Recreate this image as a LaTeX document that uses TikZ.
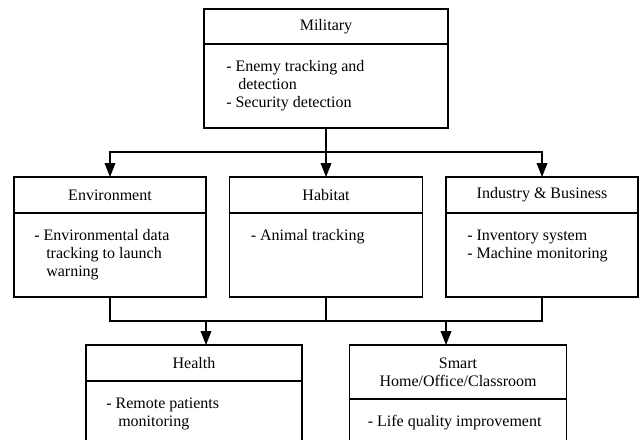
\documentclass[tikz,border=0pt]{standalone}
\usepackage{fontspec}
\setmainfont{Liberation Serif}
\usetikzlibrary{positioning,arrows.meta}
\def\ind{\hspace*{9pt}}
\tikzset{
 box/.style={draw, line width=1.1pt, outer sep=0pt, inner sep=0pt, font=\fontsize{12}{13.5}\selectfont},
 head/.style={box, minimum height=27pt, align=center},
 body/.style={box, minimum height=63pt},
 items/.style={anchor=north west, inner sep=0pt, align=left, font=\fontsize{12}{13.5}\selectfont},
 link/.style={line width=1.1pt},
 arr/.style={link, -{Triangle[length=10.5pt,width=8pt]}}
}
\begin{document}
\begin{tikzpicture} [x=0.75pt, y=-0.75pt]
\useasboundingbox (0,0) rectangle (641,439);
\clip (0,0) rectangle (641,439);

% top
\node [head, minimum width=183pt, minimum height=26.25pt] (milh) at (326,26.5) {Military};
\node [body, minimum width=183pt, below=0pt of milh] (milb) {};
\node [items] (milt) at ([shift={(22,15)}]milb.north west)
 {\strut- Enemy tracking and\\ \ind detection\\- Security detection};


% middle row
\node [head, minimum width=144pt] (envh) at (110,195) {Environment};
\node [body, minimum width=144pt, below=0pt of envh] (envb) {};
\node [items] (envt) at ([shift={(20,15)}]envb.north west)
 {\strut- Environmental data\\ \ind tracking to launch\\ \ind warning};

\node [head, minimum width=144.75pt] (habh) at (326,195) {Habitat};
\node [body, minimum width=144.75pt, below=0pt of habh] (habb) {};
\node [items] (habt) at ([shift={(21,15)}]habb.north west)
 {\strut- Animal tracking};

\node [head, minimum width=144pt] (indh) at (542,195) {Industry \& Business};
\node [body, minimum width=144pt, below=0pt of indh] (indb) {};
\node [items] (indt) at ([shift={(21,15)}]indb.north west)
 {\strut- Inventory system\\- Machine monitoring};


% bottom row
\node [head, minimum width=162pt] (healthh) at (194,363) {Health};
\node [body, minimum width=162pt, below=0pt of healthh] (healthb) {};
\node [items] (healtht) at ([shift={(20,15)}]healthb.north west)
 {\strut- Remote patients\\ \ind monitoring};

\node [head, minimum width=162.75pt, minimum height=40.5pt] (smarth) at (458,372) {Smart\\Home/Office/Classroom};
\node [body, minimum width=162.75pt, below=0pt of smarth] (smartb) {};
\node [items] (smartt) at ([shift={(18,15)}]smartb.north west)
 {\strut- Life quality improvement};


% links
\coordinate (split) at (326,152);
\draw [link] (milb.south) -- (split);
\draw [arr] (split) -- (habh.north);
\draw [arr] (split) -| (envh.north);
\draw [arr] (split) -| (indh.north);

\coordinate (join) at (326,321);
\coordinate (tohealth) at (206,321);
\coordinate (tosmart) at (446,321);
\draw [link] (envb.south) |- (join) -| (indb.south);
\draw [link] (habb.south) -- (join);
\draw [arr] (tohealth) -- (tohealth |- healthh.north);
\draw [arr] (tosmart) -- (tosmart |- smarth.north);
\end{tikzpicture}
\end{document}
